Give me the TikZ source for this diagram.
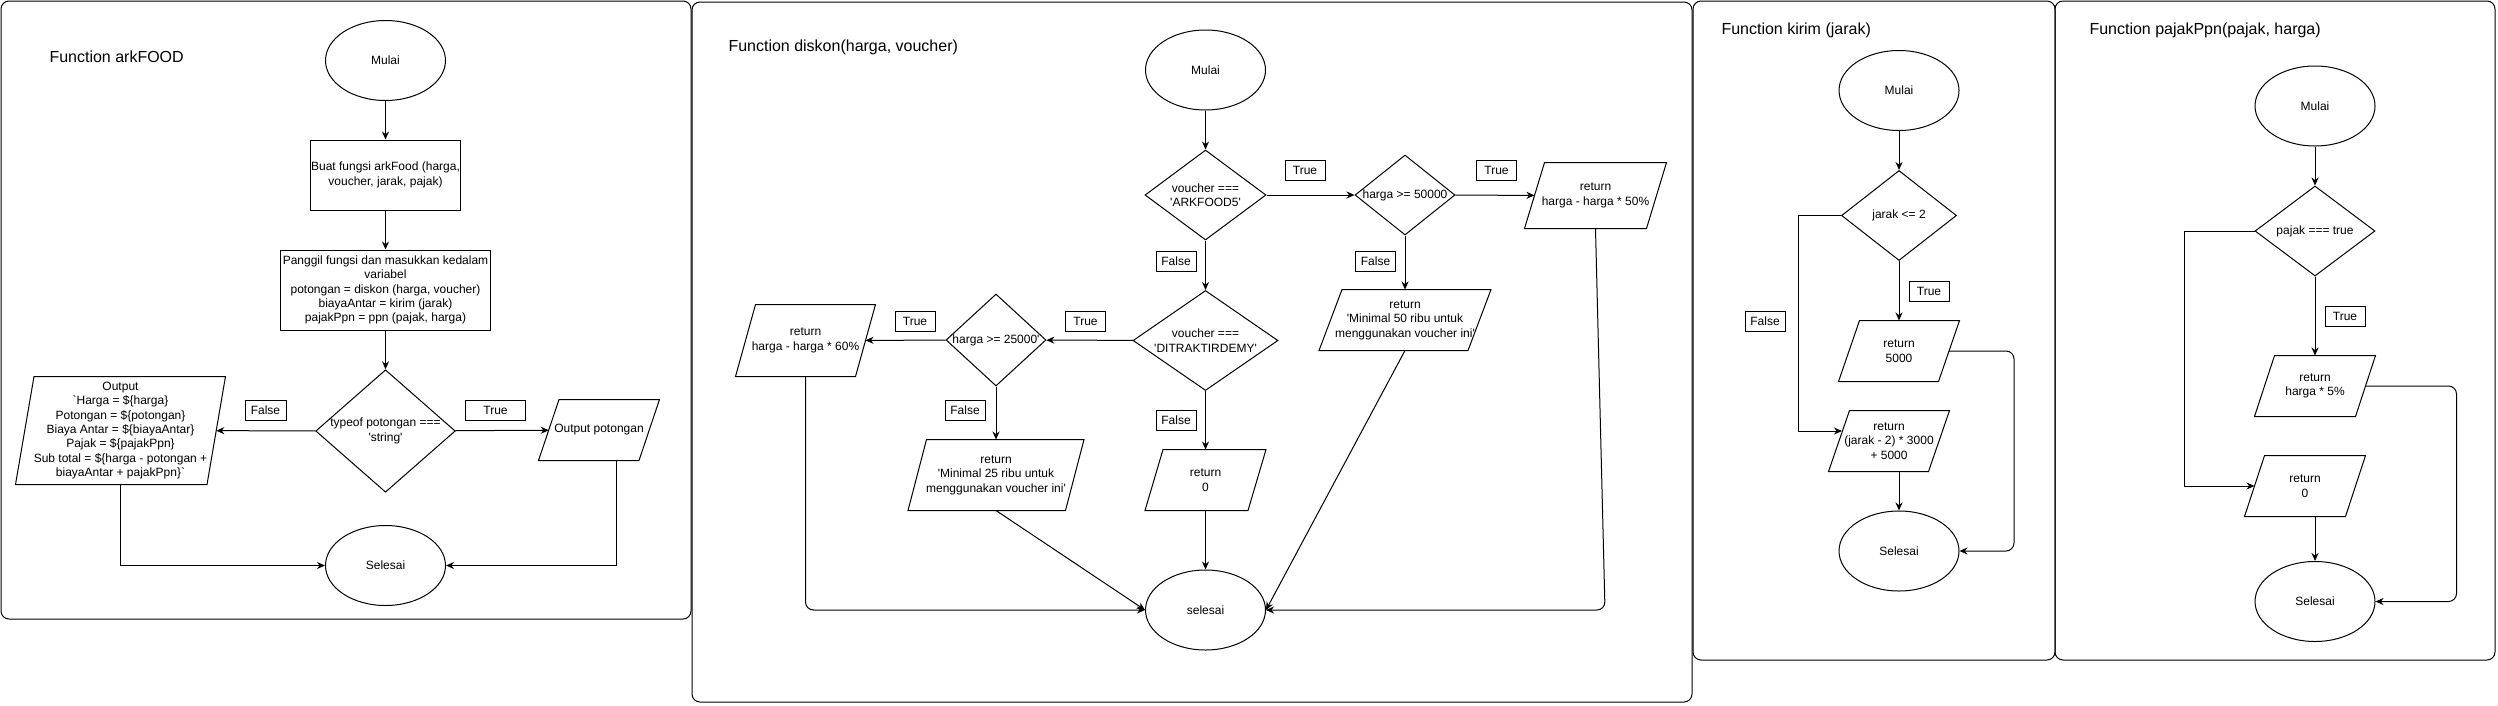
\documentclass[tikz,border=0pt]{standalone}
\usepackage{fontspec}
\newfontfamily\diofont{Liberation Sans}
\usetikzlibrary{shapes.geometric,arrows.meta,calc}
\tikzstyle{decision} = [diamond, draw, inner sep=0pt, align=center]
\tikzstyle{block} = [rectangle, draw, inner sep=1pt, align=center]
\tikzstyle{cloud} = [ellipse, draw, minimum width=120pt, minimum height=80pt, inner sep=0pt]
\tikzstyle{io} = [rectangle, inner sep=1pt, align=center]
\tikzstyle{answer} = [rectangle, draw, minimum width=40pt, minimum height=20pt, inner sep=0pt]
\tikzstyle{title} = [anchor=west, inner sep=0pt, font=\diofont\fontsize{16pt}{19pt}\selectfont]
\tikzstyle{line} = [draw, -{Stealth[length=8pt,width=7pt]}]
\tikzstyle{frame} = [draw, rounded corners=8pt]

\begin{document}
\begin{tikzpicture}[x=1pt, y=-1pt, line width=1pt,
    every node/.style={font=\diofont\fontsize{12pt}{14.4pt}\selectfont}]
    \fill [white] (0,0) rectangle (2498,705);
    \useasboundingbox (0,0) rectangle (2498,705);
    % Frames
    \draw [frame] (1,1) rectangle (691,619);
    \draw [frame] (692,2) rectangle (1692,702);
    \draw [frame] (1693,1) rectangle (2055,660);
    \draw [frame] (2055,1) rectangle (2495,660);
    % Place nodes: arkFOOD
    \node [title] (judulA) at (49,57) {Function arkFOOD};
    \node [cloud] (mulaiA) at (385.5,60.5) {Mulai};
    \node [block, minimum width=150pt, minimum height=70pt] (buatA) at (385.5,175) {Buat fungsi arkFood (harga,\\voucher, jarak, pajak)};
    \node [block, minimum width=210pt, minimum height=80pt] (panggilA) at (385.5,290) {Panggil fungsi dan masukkan kedalam\\variabel\\potongan = diskon (harga, voucher)\\biayaAntar = kirim (jarak)\\pajakPpn = ppn (pajak, harga)};
    \node [decision, minimum width=137pt, minimum height=120pt, aspect=1.14] (cekA) at (385.5,431) {typeof potongan ===\\'string'};
    \node [io, minimum width=190.5pt, minimum height=107pt] (outA) at (120.5,430.5) {Output\\`Harga = \$\{harga\}\\Potongan = \$\{potongan\}\\Biaya Antar = \$\{biayaAntar\}\\Pajak = \$\{pajakPpn\}\\Sub total = \$\{harga - potongan +\\biayaAntar + pajakPpn\}`};
    \node [io, minimum width=99.5pt, minimum height=60pt] (outPot) at (599,430) {Output potongan};
    \node [cloud] (selesaiA) at (385.5,565.5) {Selesai};
    \node [answer, minimum width=41pt] (falseA) at (265.5,410) {False};
    \node [answer, minimum width=60pt] (trueA) at (495.5,410) {True};
    % Place nodes: diskon
    \node [title] (judulB) at (728,47) {Function diskon(harga, voucher)};
    \node [cloud] (mulaiB) at (1205.5,70) {Mulai};
    \node [decision, minimum width=121pt, minimum height=90pt, aspect=1.34] (vArk) at (1205.5,195) {voucher ===\\'ARKFOOD5'};
    \node [decision, minimum width=100pt, minimum height=80pt, aspect=1.25] (h50) at (1405,195) {harga >= 50000};
    \node [io, minimum width=121pt, minimum height=65pt] (ret50) at (1595.5,195.5) {return\\harga - harga * 50\%};
    \node [io, minimum width=148pt, minimum height=60pt] (min50) at (1405,320) {return\\'Minimal 50 ribu untuk\\menggunakan voucher ini'};
    \node [decision, minimum width=145pt, minimum height=100pt, aspect=1.45] (vDit) at (1205.5,340.5) {voucher ===\\'DITRAKTIRDEMY'};
    \node [decision, minimum width=100pt, minimum height=92pt, aspect=1.09] (h25) at (996,340) {harga >= 25000'};
    \node [io, minimum width=119pt, minimum height=71pt] (ret60) at (805.5,340.5) {return\\harga - harga * 60\%};
    \node [io, minimum width=156.5pt, minimum height=70pt] (min25) at (996,475) {return\\'Minimal 25 ribu untuk\\menggunakan voucher ini'};
    \node [io, minimum width=102pt, minimum height=60pt] (ret0B) at (1205.5,480) {return\\0};
    \node [cloud] (selesaiB) at (1205.5,610) {selesai};
    \coordinate (sudutB) at (1605,610);
    \node [answer] (trueB1) at (1305,170.5) {True};
    \node [answer] (trueB2) at (1496.5,170) {True};
    \node [answer] (falseB2) at (1375.5,261.5) {False};
    \node [answer] (falseB1) at (1176,261) {False};
    \node [answer] (trueB3) at (1085.5,321) {True};
    \node [answer] (trueB4) at (915,321) {True};
    \node [answer] (falseB4) at (965,410) {False};
    \node [answer] (falseB3) at (1176,420) {False};
    % Place nodes: kirim
    \node [title] (judulC) at (1721,30) {Function kirim (jarak)};
    \node [cloud] (mulaiC) at (1899,90.5) {Mulai};
    \node [decision, minimum width=115pt, minimum height=90pt, aspect=1.28] (jarakC) at (1899,215.5) {jarak <= 2};
    \node [io, minimum width=99pt, minimum height=60pt] (ret5000) at (1899,351) {return\\5000};
    \node [io, minimum width=99pt, minimum height=60pt] (retJarak) at (1889,441) {return\\(jarak - 2) * 3000\\+ 5000};
    \node [cloud] (selesaiC) at (1899,551) {Selesai};
    \node [answer] (trueC) at (1929,291) {True};
    \node [answer] (falseC) at (1765,321) {False};
    % Place nodes: pajakPpn
    \node [title] (judulD) at (2089,30) {Function pajakPpn(pajak, harga)};
    \node [cloud] (mulaiD) at (2315,106) {Mulai};
    \node [decision, minimum width=120pt, minimum height=90pt, aspect=1.33] (pajakD) at (2315,231) {pajak === true};
    \node [io, minimum width=100pt, minimum height=60pt] (ret5) at (2315,386) {return\\harga * 5\%};
    \node [io, minimum width=100pt, minimum height=60pt] (ret0D) at (2305,486) {return\\0};
    \node [cloud] (selesaiD) at (2315,601.5) {Selesai};
    \node [answer] (trueD) at (2345,316) {True};
    % Parallelogram outlines (half slant per node)
    \foreach \n/\s in {outA/9.25, outPot/10.25, ret50/10, min50/11.5, ret60/10, min25/9.25,
        ret0B/9, ret5000/10.5, retJarak/10.5, ret5/10, ret0D/10}
        \draw ([xshift=\s pt]\n.north west) -- ([xshift=\s pt]\n.north east)
            -- ([xshift=-\s pt]\n.south east) -- ([xshift=-\s pt]\n.south west) -- cycle;
    % Draw edges
    \path [line] (mulaiA) -- (buatA);
    \path [line] (buatA) -- (panggilA);
    \path [line] (panggilA) -- (cekA);
    \path [line] (cekA) -- (outA);
    \path [line] (cekA) -- (outPot);
    \path [line] (outA.south) |- (selesaiA.west);
    \path [line] ([xshift=17pt]outPot.south) |- (selesaiA.east);
    \path [line] (mulaiB) -- (vArk);
    \path [line] (vArk) -- (h50);
    \path [line] (h50) -- (ret50);
    \path [line] (h50) -- (min50);
    \path [line] (min50.south) -- (selesaiB.east);
    \path [line, rounded corners=8pt] (ret50.south) -- (sudutB) -- (selesaiB.east);
    \path [line] (vArk) -- (vDit);
    \path [line] (vDit) -- (h25);
    \path [line] (h25) -- (ret60);
    \path [line, rounded corners=8pt] (ret60.south) |- (selesaiB.west);
    \path [line] (h25) -- (min25);
    \path [line] (min25.south) -- (selesaiB.west);
    \path [line] (vDit) -- (ret0B);
    \path [line] (ret0B) -- (selesaiB);
    \path [line] (mulaiC) -- (jarakC);
    \path [line] (jarakC) -- (ret5000);
    \path [line] (jarakC.west) -- ++(-43,0) |- ([xshift=3pt, yshift=10pt]retJarak.west);
    \path [line] (selesaiC |- retJarak.south) -- (selesaiC.north);
    \path [line, rounded corners=8pt] (ret5000.east) -- ++(65,0) |- (selesaiC.east);
    \path [line] (mulaiD) -- (pajakD);
    \path [line] (pajakD) -- (ret5);
    \path [line] (pajakD.west) -- ++(-70,0) |- (ret0D.west);
    \path [line] (selesaiD |- ret0D.south) -- (selesaiD.north);
    \path [line, rounded corners=8pt] (ret5.east) -- ++(91,0) |- (selesaiD.east);
\end{tikzpicture}
\end{document}
